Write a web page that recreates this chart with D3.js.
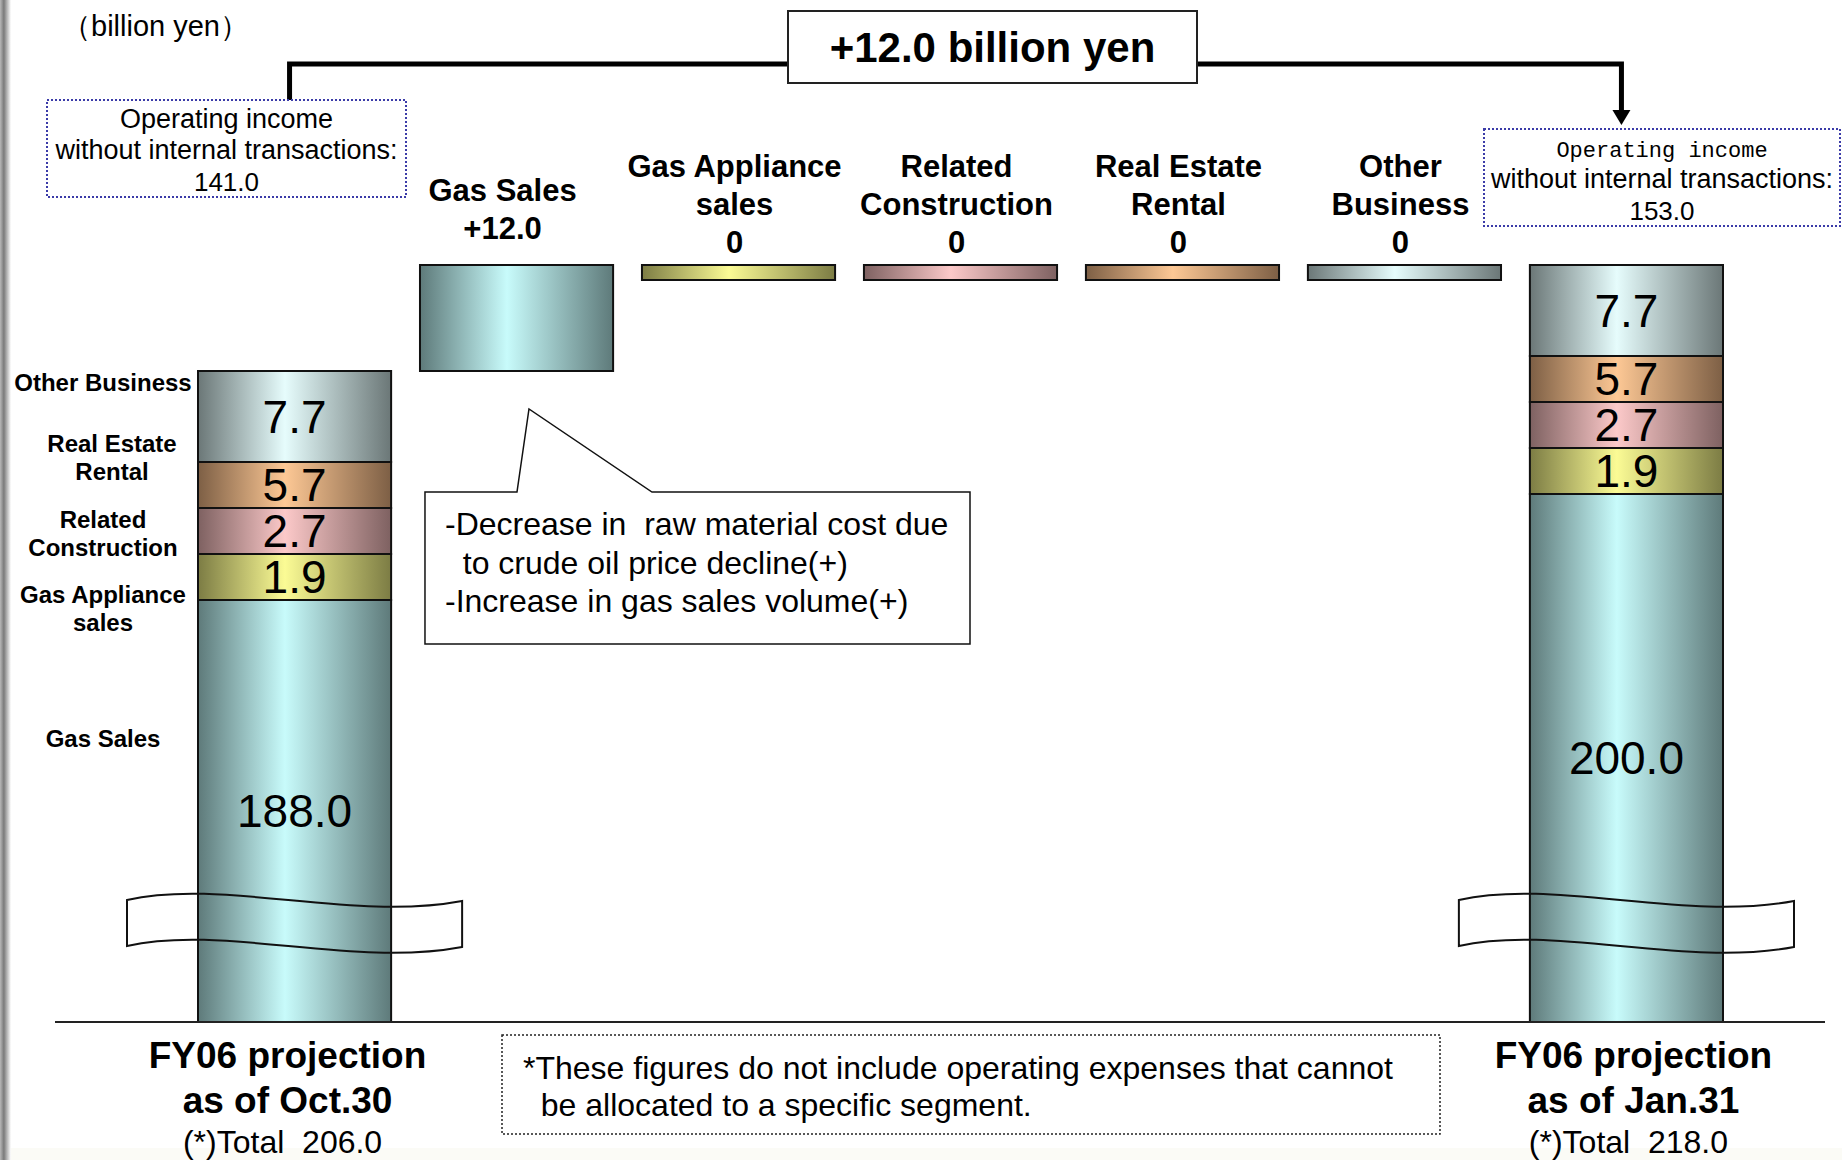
<!DOCTYPE html>
<html>
<head>
<meta charset="utf-8">
<script src="https://cdn.jsdelivr.net/npm/d3@7"></script>
<style>
  html, body { margin: 0; padding: 0; background: #fff; }
  svg { display: block; font-family: "Liberation Sans", Arial, sans-serif; }
</style>
</head>
<body>
<svg id="chart"></svg>
<script>
// segment order: bottom of the stack first
const segments = ["Gas Sales", "Gas Appliance sales", "Related Construction", "Real Estate Rental", "Other Business"];
const octValues = [188.0, 1.9, 2.7, 5.7, 7.7];
const janValues = [200.0, 1.9, 2.7, 5.7, 7.7];
const deltaValues = [12.0, 0, 0, 0, 0];
const deltaLabels = [["Gas Sales", "+12.0"], ["Gas Appliance", "sales", "0"], ["Related", "Construction", "0"], ["Real Estate", "Rental", "0"], ["Other", "Business", "0"]];
const sideLabels = [["Gas Sales"], ["Gas Appliance", "sales"], ["Related", "Construction"], ["Real Estate", "Rental"], ["Other Business"]];
const columns = ["Oct.30", "Gas Sales", "Gas Appliance sales", "Related Construction", "Real Estate Rental", "Other Business", "Jan.31"];
const totalLabels = [["FY06 projection", "as of Oct.30"], ["FY06 projection", "as of Jan.31"]];
const operatingIncome = [141.0, 153.0];
const calloutLines = ["-Decrease in  raw material cost due", "  to crude oil price decline(+)", "-Increase in gas sales volume(+)"];
const footnoteLines = ["*These figures do not include operating expenses that cannot", "  be allocated to a specific segment."];

const width = 1842, height = 1160;
const baseY = 1022;

// edge / centre colours for the slide-style gradients
const palette = [
    ["#5e7a7a", "#c8fbfb"],
    ["#7c7c44", "#fbfb95"],
    ["#7e6161", "#fcc9c9"],
    ["#7d5f45", "#fdc895"],
    ["#6b7777", "#e6fcfc"]
];

const octTotal = d3.sum(octValues);
const janTotal = d3.sum(janValues);

const svg = d3.select("#chart").attr("width", width).attr("height", height);
const defs = svg.append("defs");

palette.forEach((c, i) => {
    const g = defs.append("linearGradient").attr("id", "grad" + i)
        .attr("x1", 0).attr("x2", 1).attr("y1", 0).attr("y2", 0);
    g.append("stop").attr("offset", 0).attr("stop-color", c[0]);
    g.append("stop").attr("offset", 0.45).attr("stop-color", c[1]);
    g.append("stop").attr("offset", 1).attr("stop-color", c[0]);
});
const sh = defs.append("linearGradient").attr("id", "shadow").attr("x1", 0).attr("x2", 1);
sh.append("stop").attr("offset", 0).attr("stop-color", "#b8b8b8");
sh.append("stop").attr("offset", 0.35).attr("stop-color", "#7a7a7a");
sh.append("stop").attr("offset", 1).attr("stop-color", "#ffffff");

svg.append("rect").attr("width", width).attr("height", height).attr("fill", "#fff");
svg.append("rect").attr("y", 1148).attr("width", width).attr("height", 12).attr("fill", "#fbfbf6");
svg.append("rect").attr("width", 11).attr("height", height).attr("fill", "url(#shadow)");

// scales
const x = d3.scaleBand().domain(columns).range([198, 1723]).paddingInner(0.13);
const bw = x.bandwidth();
const y = d3.scaleLinear().domain([octTotal, janTotal]).range([371, 265]);
// small segments are not drawn to scale in the slide: two size classes
const segHeight = d3.scaleThreshold().domain([6]).range([46, 91]);

function stack(values, total) {
    const out = [];
    let top = y(total);
    for (let i = values.length - 1; i >= 1; i--) {
        const h = segHeight(values[i]);
        out.push({ i, v: values[i], y0: top, y1: top + h });
        top += h;
    }
    out.push({ i: 0, v: values[0], y0: top, y1: baseY });
    return out;
}

function drawTotal(col, values, total) {
    const g = svg.append("g");
    const st = stack(values, total);
    g.selectAll("rect").data(st).enter().append("rect")
        .attr("x", x(col)).attr("y", d => d.y0)
        .attr("width", bw).attr("height", d => d.y1 - d.y0)
        .attr("fill", d => `url(#grad${d.i})`)
        .attr("stroke", "#111").attr("stroke-width", 2);
    g.selectAll("text").data(st).enter().append("text")
        .attr("x", x(col) + bw / 2)
        .attr("y", d => (d.y0 + d.y1) / 2)
        .attr("dy", "0.35em")
        .attr("text-anchor", "middle")
        .attr("font-size", 46)
        .attr("fill", "#000")
        .text(d => d.v.toFixed(1));

    // axis break band
    const x0 = x(col), t = 892, th = 46;
    const xl = x0 - 71, xr = x0 + bw + 71;
    const p = `M${xl},${t + 8} C${x0 + 25},${t - 14} ${x0 + bw - 40},${t + 30} ${xr},${t + 9}` +
        ` L${xr},${t + 9 + th} C${x0 + bw - 40},${t + 30 + th} ${x0 + 25},${t - 14 + th} ${xl},${t + 8 + th} Z`;
    g.append("path").attr("d", p).attr("fill", "none").attr("stroke", "#111").attr("stroke-width", 2);
    return st;
}

const octStack = drawTotal("Oct.30", octValues, octTotal);
drawTotal("Jan.31", janValues, janTotal);

// baseline
svg.append("line").attr("x1", 55).attr("x2", 1825).attr("y1", baseY).attr("y2", baseY)
    .attr("stroke", "#222").attr("stroke-width", 2);

// waterfall deltas
let running = octTotal;
const deltas = deltaValues.map((v, i) => {
    const d = { i, v, from: running, to: running + v, col: segments[i] };
    running += v;
    return d;
});

const dg = svg.append("g");
dg.selectAll("rect").data(deltas).enter().append("rect")
    .attr("x", d => x(d.col))
    .attr("y", d => y(Math.max(d.from, d.to)))
    .attr("width", bw)
    .attr("height", d => Math.max(Math.abs(y(d.from) - y(d.to)), 15))
    .attr("fill", d => `url(#grad${d.i})`)
    .attr("stroke", "#111").attr("stroke-width", 2);

deltas.forEach(d => {
    const lines = deltaLabels[d.i];
    const top = y(Math.max(d.from, d.to));
    const lift = lines.length < 3 ? 14 : 0;
    const cx = x(d.col) + bw / 2 - (lines.length < 3 ? 14 : 4);
    const t = dg.append("text")
        .attr("text-anchor", "middle")
        .attr("font-size", 31)
        .attr("font-weight", "bold");
    lines.forEach((s, k) => {
        t.append("tspan")
            .attr("x", cx)
            .attr("y", top - 12 - lift - (lines.length - 1 - k) * 38)
            .text(s);
    });
});

// side labels for the left stack
const labelY = d3.scalePoint()
    .domain([4, 3, 2, 1])
    .range([octStack[0].y0 + 11, octStack[4].y0 + 8]);
sideLabels.forEach((lines, i) => {
    const cy = i === 0 ? octStack[4].y0 + 138 : labelY(i);
    const t = svg.append("text")
        .attr("text-anchor", "middle")
        .attr("font-size", 24)
        .attr("font-weight", "bold");
    lines.forEach((s, k) => {
        t.append("tspan")
            .attr("x", i === 3 ? 112 : 103)
            .attr("y", cy + 9 + (k - (lines.length - 1) / 2) * 28)
            .text(s);
    });
});

// top bracket with total change
const lx = x("Oct.30") + bw / 2 - 5, rx = x("Jan.31") + bw / 2 - 5;
svg.append("path")
    .attr("d", `M${lx},100 V64 H788 M1197,64 H${rx} V112`)
    .attr("fill", "none").attr("stroke", "#000").attr("stroke-width", 5);
svg.append("path")
    .attr("d", `M${rx - 9},110 L${rx + 9},110 L${rx},125 Z`)
    .attr("fill", "#000");
svg.append("rect").attr("x", 788).attr("y", 11).attr("width", 409).attr("height", 72)
    .attr("fill", "#fff").attr("stroke", "#222").attr("stroke-width", 2);
svg.append("text").attr("x", 992.5).attr("y", 62)
    .attr("text-anchor", "middle").attr("font-size", 42).attr("font-weight", "bold")
    .text(`+${(janTotal - octTotal).toFixed(1)} billion yen`);

svg.append("text").attr("x", 62).attr("y", 36).attr("font-size", 29).text("（billion yen）");

// operating income boxes
function incomeBox(bx, by, bwid, value, mono) {
    svg.append("rect").attr("x", bx).attr("y", by).attr("width", bwid).attr("height", 97)
        .attr("fill", "#fff").attr("stroke", "#3b3ba8").attr("stroke-width", 2)
        .attr("stroke-dasharray", "2,2");
    const cx = bx + bwid / 2;
    svg.append("text").attr("x", cx).attr("y", by + 28).attr("text-anchor", "middle")
        .attr("font-size", mono ? 22 : 27)
        .attr("font-family", mono ? "'Liberation Mono', 'DejaVu Sans Mono', monospace" : null)
        .text("Operating income");
    svg.append("text").attr("x", cx).attr("y", by + 59).attr("text-anchor", "middle")
        .attr("font-size", 27).text("without internal transactions:");
    svg.append("text").attr("x", cx).attr("y", by + 91).attr("text-anchor", "middle")
        .attr("font-size", 26).text(value.toFixed(1));
}
incomeBox(47, 100, 359, operatingIncome[0], false);
incomeBox(1484, 129, 356, operatingIncome[1], true);

// callout for gas sales
const gx = x("Gas Sales");
svg.append("path")
    .attr("d", `M${gx + 5},492 L${gx + 97},492 L${gx + 109},409 L${gx + 232},492 L970,492 L970,644 L${gx + 5},644 Z`)
    .attr("fill", "#fff").attr("stroke", "#111").attr("stroke-width", 1.5);
calloutLines.forEach((s, k) => {
    svg.append("text").attr("x", 445).attr("y", 535 + k * 38.5)
        .attr("font-size", 32).style("white-space", "pre").text(s);
});

// footnote
svg.append("rect").attr("x", 502).attr("y", 1035).attr("width", 938).attr("height", 99)
    .attr("fill", "none").attr("stroke", "#222").attr("stroke-width", 1.5)
    .attr("stroke-dasharray", "2,2");
footnoteLines.forEach((s, k) => {
    svg.append("text").attr("x", 523).attr("y", 1079 + k * 37)
        .attr("font-size", 32).style("white-space", "pre").text(s);
});

// totals under the bars
[["Oct.30", octTotal], ["Jan.31", janTotal]].forEach(([col, tot], j) => {
    const cx = x(col) + bw / 2 + (j === 0 ? -7 : 7);
    totalLabels[j].forEach((s, k) => {
        svg.append("text").attr("x", cx).attr("y", 1068 + k * 45)
            .attr("text-anchor", "middle").attr("font-size", 37).attr("font-weight", "bold")
            .text(s);
    });
    svg.append("text").attr("x", cx - 5).attr("y", 1153)
        .attr("text-anchor", "middle").attr("font-size", 32).style("white-space", "pre")
        .text(`(*)Total  ${tot.toFixed(1)}`);
});
</script>
</body>
</html>
